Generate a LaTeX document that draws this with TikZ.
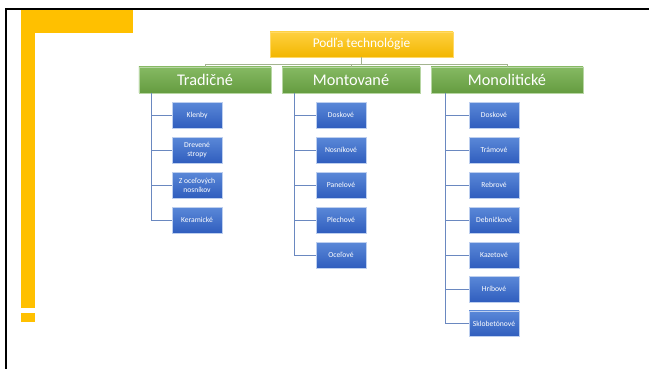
\documentclass[tikz,border=0pt]{standalone}
\usepackage{fontspec}
\setmainfont{Carlito}
\usepackage{tikz}
\usetikzlibrary{positioning, calc}
\definecolor{zlta}{HTML}{FFC000}
\definecolor{zelena}{HTML}{70AD47}
\definecolor{modrah}{HTML}{5A88D8}
\definecolor{modrad}{HTML}{305EBE}
\definecolor{vetvy}{HTML}{A3B48F}
\definecolor{kmene}{HTML}{6A88C0}

\begin{document}
\begin{tikzpicture}[x=0.03cm, y=-0.03cm,
  koren/.style={draw=zlta!60!white, top color=zlta!75!white, bottom color=zlta!95!black, text=white, font=\fontsize{11.4}{12}\selectfont, minimum height=0.75cm, inner sep=0pt},
  skupina/.style={draw=zelena!50!white, top color=zelena!85!white, bottom color=zelena!90!black, text=white, font=\fontsize{13.9}{15}\selectfont, minimum height=0.78cm, inner sep=0pt},
  polozka/.style={draw=modrah!40!white, top color=modrah, bottom color=modrad, text=white, font=\fontsize{6.5}{7.5}\selectfont, minimum width=1.5cm, minimum height=0.765cm, inner sep=0pt, align=center},
  vetva/.style={draw=vetvy, line width=0.6pt},
  kmen/.style={draw=kmene, line width=0.6pt}]
  \useasboundingbox (0,0) rectangle (649,369);

  % ramik a zlte pruhy
  \fill[zlta] (21,10) rectangle (133,33);
  \fill[zlta] (21,10) rectangle (35,308);
  \fill[zlta] (21,313) rectangle (35,322);
  \draw[line width=0.06cm] (5.5,369) -- (5.5,9) -- (649,9);

  % koren a skupiny
  \node[koren, minimum width=5.49cm] (koren) at (361.5,44.5) {Podľa technológie};
  \node[skupina, minimum width=3.96cm] (trad) at (205,80) {Tradičné};
  \node[skupina, minimum width=4.14cm] (mont) at (351,80) {Montované};
  \node[skupina, minimum width=4.56cm] (mono) at (507,80) {Monolitické};

  \draw[vetva] (koren.south) -- ++(0,7) coordinate (rozvod);
  \draw[vetva] (rozvod) -| (trad.north);
  \draw[vetva] (rozvod) -| (mont.north);
  \draw[vetva] (rozvod) -| (mono.north);

  % Tradičné
  \node[polozka] (t1) at (197,115) {Klenby};
  \node[polozka] (t2) at (197,150) {Drevené\\stropy};
  \node[polozka] (t3) at (197,185) {Z oceľových\\nosníkov};
  \node[polozka] (t4) at (197,220) {Keramické};

  % Montované
  \node[polozka] (m1) at (341,115) {Doskové};
  \node[polozka] (m2) at (341,150) {Nosníkové};
  \node[polozka] (m3) at (341,185) {Panelové};
  \node[polozka] (m4) at (341,220) {Plechové};
  \node[polozka] (m5) at (341,255) {Oceľové};

  % Monolitické
  \node[polozka] (n1) at (494,115) {Doskové};
  \node[polozka] (n2) at (494,150) {Trámové};
  \node[polozka] (n3) at (494,185) {Rebrové};
  \node[polozka] (n4) at (494,220) {Debničkové};
  \node[polozka] (n5) at (494,255) {Kazetové};
  \node[polozka] (n6) at (494,289) {Hríbové};
  \node[polozka] (n7) at (494,323.5) {Sklobetónové};

  % prepojenie
  \foreach \c in {t1,t2,t3,t4}
    \draw[kmen] ([xshift=0.39cm]trad.south west) |- (\c.west);
  \foreach \c in {m1,m2,m3,m4,m5}
    \draw[kmen] ([xshift=0.39cm]mont.south west) |- (\c.west);
  \foreach \c in {n1,n2,n3,n4,n5,n6,n7}
    \draw[kmen] ([xshift=0.45cm]mono.south west) |- (\c.west);
\end{tikzpicture}
\end{document}
